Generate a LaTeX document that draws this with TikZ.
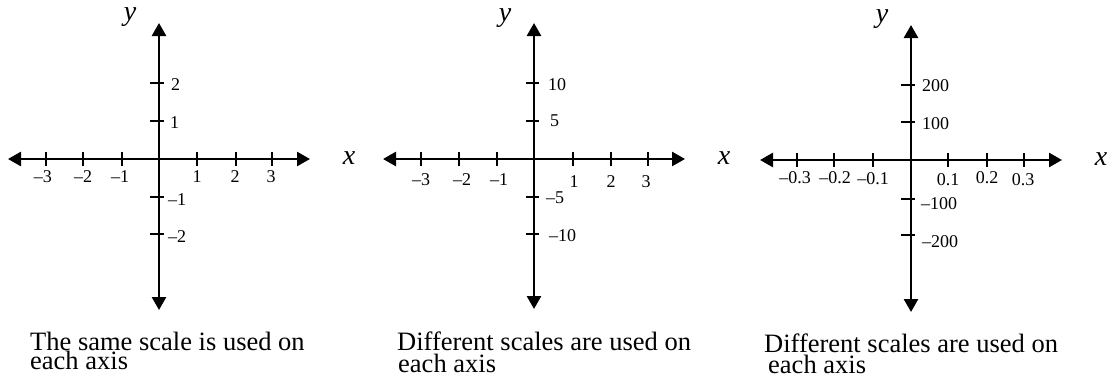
\documentclass[tikz,border=0pt]{standalone}
\usepackage{fontspec}
\setmainfont{Liberation Serif}
\usetikzlibrary{arrows.meta}
\begin{document}
\begin{tikzpicture}[x=1pt,y=-1pt,
  axisline/.style={line width=2.6pt,{Triangle[width=14pt,length=13pt]}-{Triangle[width=14pt,length=13pt]}},
  tickline/.style={line width=2.3pt},
  ticklab/.style={inner sep=0pt,font=\fontsize{18}{18}\selectfont,anchor=base},
  ylab/.style={inner sep=0pt,font=\fontsize{18}{18}\selectfont,anchor=base west},
  axname/.style={inner sep=0pt,font=\fontsize{28}{28}\selectfont\itshape,anchor=base},
  caption/.style={inner sep=0pt,font=\fontsize{26.5}{26.5}\selectfont,anchor=base west}]
\useasboundingbox (0,0) rectangle (1112,380);

% ---------- Panel 1 ----------
\coordinate (p1l) at (8,159);
\coordinate (p1r) at (310,159);
\coordinate (p1t) at (159,23);
\coordinate (p1b) at (159,310);
\draw[axisline] (p1l) -- (p1r);
\draw[axisline] (p1t) -- (p1b);
\foreach \x in {46,83,122,197,236,272} \draw[tickline] (\x,152) -- (\x,166);
\foreach \y in {83,121,197,234} \draw[tickline] (150,\y) -- (164,\y);
\node[ticklab] (p1xm3) at (43,182) {–3};
\node[ticklab] (p1xm2) at (83,182) {–2};
\node[ticklab] (p1xm1) at (120,182) {–1};
\node[ticklab] (p1x1) at (197,182) {1};
\node[ticklab] (p1x2) at (235,182) {2};
\node[ticklab] (p1x3) at (271,182) {3};
\node[ylab] (p1y2) at (171,90) {2};
\node[ylab] (p1y1) at (170,128) {1};
\node[ylab] (p1ym1) at (168,205) {–1};
\node[ylab] (p1ym2) at (168,242) {–2};
\node[axname] (p1yn) at (130,20) {y};
\node[axname] (p1xn) at (349,164) {x};
\node[caption] (p1c1) at (30,350) {The same scale is used on};
\node[caption] (p1c2) at (30,369) {each axis};

% ---------- Panel 2 ----------
\coordinate (p2l) at (383,159);
\coordinate (p2r) at (685,159);
\coordinate (p2t) at (534,23);
\coordinate (p2b) at (534,309);
\draw[axisline] (p2l) -- (p2r);
\draw[axisline] (p2t) -- (p2b);
\foreach \x in {421,459,497,573,611,648} \draw[tickline] (\x,152) -- (\x,166);
\foreach \y in {83,121,197,234} \draw[tickline] (526,\y) -- (539,\y);
\node[ticklab] (p2xm3) at (421,185) {–3};
\node[ticklab] (p2xm2) at (462,185) {–2};
\node[ticklab] (p2xm1) at (499,185) {–1};
\node[ticklab] (p2x1) at (574,187) {1};
\node[ticklab] (p2x2) at (611,187) {2};
\node[ticklab] (p2x3) at (646,187) {3};
\node[ylab] (p2y10) at (548,90) {10};
\node[ylab] (p2y5) at (550,126) {5};
\node[ylab] (p2ym5) at (546,203) {–5};
\node[ylab] (p2ym10) at (549,241) {–10};
\node[axname] (p2yn) at (505,21) {y};
\node[axname] (p2xn) at (724,164) {x};
\node[caption] (p2c1) at (397,350) {Different scales are used on};
\node[caption] (p2c2) at (398,372) {each axis};

% ---------- Panel 3 ----------
\coordinate (p3l) at (760,160);
\coordinate (p3r) at (1062,160);
\coordinate (p3t) at (911,25);
\coordinate (p3b) at (911,312);
\draw[axisline] (p3l) -- (p3r);
\draw[axisline] (p3t) -- (p3b);
\foreach \x in {797,834,873,948,987,1024} \draw[tickline] (\x,153) -- (\x,167);
\foreach \y in {85,122,199,235} \draw[tickline] (901,\y) -- (915,\y);
\node[ticklab] (p3xm3) at (795,183) {–0.3};
\node[ticklab] (p3xm2) at (835,183) {–0.2};
\node[ticklab] (p3xm1) at (873,184) {–0.1};
\node[ticklab] (p3x1) at (948,185) {0.1};
\node[ticklab] (p3x2) at (987,183) {0.2};
\node[ticklab] (p3x3) at (1023,185) {0.3};
\node[ylab] (p3y200) at (922,91) {200};
\node[ylab] (p3y100) at (922,129) {100};
\node[ylab] (p3ym100) at (921,209) {–100};
\node[ylab] (p3ym200) at (922,247) {–200};
\node[axname] (p3yn) at (882,22) {y};
\node[axname] (p3xn) at (1101,165) {x};
\node[caption] (p3c1) at (764,352) {Different scales are used on};
\node[caption] (p3c2) at (768,373) {each axis};
\end{tikzpicture}
\end{document}
